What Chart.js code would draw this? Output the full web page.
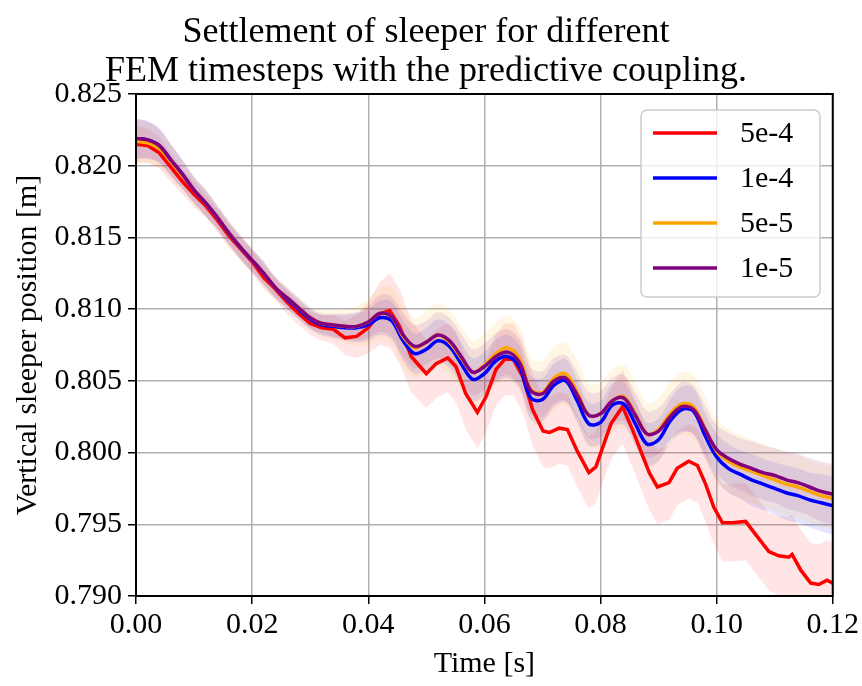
<!DOCTYPE html>
<html>
<head>
<meta charset="utf-8">
<script src="https://cdn.jsdelivr.net/npm/chart.js@4"></script>
<style>
  body { margin: 0; background: #fff; }
  #wrap { width: 862px; height: 686px; }
</style>
</head>
<body>
<div id="wrap"><canvas id="settlementChart" width="862" height="686"></canvas></div>
<script>
// title, FEM timestep labels and colours
const titleLines = ["Settlement of sleeper for different", "FEM timesteps with the predictive coupling."];
const seriesLabels = ["5e-4", "1e-4", "5e-5", "1e-5"];
const seriesColors = ["#ff0000", "#0000ff", "#ffa500", "#800080"];

// tick values
const xTicks = [0, 0.02, 0.04, 0.06, 0.08, 0.10, 0.12];
const yTicks = [0.790, 0.795, 0.800, 0.805, 0.810, 0.815, 0.820, 0.825];

// time grid shared by the three finer timesteps
const timeFine = [0, 0.002, 0.004, 0.006, 0.008, 0.010, 0.012, 0.014, 0.016, 0.018,
    0.020, 0.022, 0.024, 0.026, 0.028, 0.030, 0.032, 0.034, 0.036, 0.038,
    0.040, 0.042, 0.044, 0.046, 0.048, 0.050, 0.052, 0.054, 0.056, 0.058,
    0.060, 0.062, 0.064, 0.066, 0.068, 0.070, 0.072, 0.074, 0.076, 0.078,
    0.080, 0.082, 0.084, 0.086, 0.088, 0.090, 0.092, 0.094, 0.096, 0.098,
    0.100, 0.102, 0.104, 0.106, 0.108, 0.110, 0.112, 0.114, 0.116, 0.118, 0.120];

const pos1e4 = [0.8219, 0.8218, 0.8214, 0.8204, 0.8194, 0.8183, 0.8174, 0.8164, 0.8153, 0.8143, 0.8134, 0.8125, 0.8115, 0.8107, 0.8100, 0.8093,
    0.8089, 0.8088, 0.8087, 0.8087, 0.8089,
    0.8094, 0.8092, 0.8078, 0.8069, 0.8072, 0.8078, 0.8074, 0.8062, 0.8051, 0.8055,
    0.8064, 0.8067, 0.8060, 0.8038, 0.8037, 0.8047, 0.8050, 0.8036, 0.8020, 0.8021,
    0.8033, 0.8034, 0.8020, 0.8006, 0.8009, 0.8022, 0.8030, 0.8029, 0.8012, 0.7997,
    0.7989, 0.7985, 0.7981, 0.7978, 0.7975, 0.7972, 0.7970, 0.7967, 0.7965, 0.7963];

const pos5e5 = [0.8217, 0.8216, 0.8212, 0.8203, 0.8193, 0.8183, 0.8174, 0.8164, 0.8153, 0.8143, 0.8134, 0.8125, 0.8115, 0.8108, 0.8101, 0.8094,
    0.8090, 0.8089, 0.8088, 0.8088, 0.8091,
    0.8097, 0.8095, 0.8081, 0.8073, 0.8077, 0.8082, 0.8077, 0.8066, 0.8056, 0.8061,
    0.8069, 0.8073, 0.8066, 0.8044, 0.8042, 0.8052, 0.8055, 0.8042, 0.8026, 0.8027,
    0.8036, 0.8039, 0.8027, 0.8013, 0.8016, 0.8027, 0.8034, 0.8032, 0.8017, 0.8001,
    0.7994, 0.7990, 0.7987, 0.7984, 0.7981, 0.7978, 0.7976, 0.7973, 0.7970, 0.7968];

const pos1e5 = [0.8219, 0.8218, 0.8214, 0.8204, 0.8194, 0.8183, 0.8174, 0.8164, 0.8153, 0.8143, 0.8134, 0.8125, 0.8115, 0.8108, 0.8101, 0.8094,
    0.8090, 0.8089, 0.8088, 0.8088, 0.8091,
    0.8097, 0.8095, 0.8082, 0.8074, 0.8077, 0.8082, 0.8078, 0.8067, 0.8056, 0.8060,
    0.8067, 0.8070, 0.8063, 0.8043, 0.8041, 0.8050, 0.8052, 0.8040, 0.8026, 0.8027,
    0.8036, 0.8038, 0.8026, 0.8013, 0.8015, 0.8025, 0.8032, 0.8030, 0.8016, 0.8002,
    0.7996, 0.7992, 0.7989, 0.7986, 0.7984, 0.7981, 0.7979, 0.7976, 0.7973, 0.7971];

// spread of the shaded bands (half width)
const spread1e4 = [0.0014, 0.0013, 0.0012, 0.0011, 0.0010, 0.0009, 0.0009, 0.0008, 0.0008, 0.0008, 0.0008, 0.0008, 0.0007, 0.0007, 0.0007, 0.0007,
    0.0007, 0.0008, 0.0009, 0.0010, 0.0011,
    0.0012, 0.0013, 0.0014, 0.0014, 0.0015, 0.0015, 0.0015, 0.0015, 0.0015, 0.0015,
    0.0015, 0.0015, 0.0015, 0.0015, 0.0015, 0.0015, 0.0015, 0.0015, 0.0015, 0.0015,
    0.0015, 0.0015, 0.0015, 0.0015, 0.0015, 0.0015, 0.0016, 0.0016, 0.0016, 0.0016,
    0.0017, 0.0017, 0.0018, 0.0018, 0.0018, 0.0019, 0.0019, 0.0019, 0.0020, 0.0020];

const spread5e5 = [0.0015, 0.0014, 0.0013, 0.0012, 0.0011, 0.0010, 0.0010, 0.0009, 0.0009, 0.0009, 0.0009, 0.0009, 0.0008, 0.0008, 0.0008, 0.0008,
    0.0009, 0.0010, 0.0012, 0.0014, 0.0016,
    0.0018, 0.0020, 0.0021, 0.0021, 0.0022, 0.0022, 0.0022, 0.0022, 0.0022, 0.0022,
    0.0022, 0.0022, 0.0022, 0.0022, 0.0022, 0.0022, 0.0022, 0.0022, 0.0022, 0.0022,
    0.0022, 0.0022, 0.0022, 0.0022, 0.0022, 0.0022, 0.0022, 0.0022, 0.0022, 0.0022,
    0.0022, 0.0022, 0.0022, 0.0022, 0.0022, 0.0022, 0.0022, 0.0022, 0.0022, 0.0022];

const spread1e5 = [0.0014, 0.0013, 0.0012, 0.0011, 0.0010, 0.0009, 0.0009, 0.0008, 0.0008, 0.0008, 0.0008, 0.0008, 0.0007, 0.0007, 0.0007, 0.0007,
    0.0007, 0.0008, 0.0009, 0.0010, 0.0011,
    0.0013, 0.0014, 0.0015, 0.0015, 0.0015, 0.0016, 0.0016, 0.0016, 0.0016, 0.0016,
    0.0016, 0.0016, 0.0016, 0.0016, 0.0016, 0.0016, 0.0016, 0.0016, 0.0016, 0.0016,
    0.0016, 0.0016, 0.0016, 0.0016, 0.0016, 0.0016, 0.0017, 0.0017, 0.0017, 0.0017,
    0.0018, 0.0018, 0.0019, 0.0019, 0.0019, 0.0020, 0.0020, 0.0020, 0.0021, 0.0021];

// the coarse 5e-4 run has its own sample times
const time5e4 = [0, 0.002, 0.004, 0.006, 0.008, 0.010, 0.012, 0.014, 0.016, 0.018, 0.020,
    0.022, 0.024, 0.026, 0.028, 0.030, 0.032, 0.034, 0.036, 0.038, 0.040, 0.042,
    0.0437, 0.0454, 0.0474, 0.050, 0.0517, 0.0537, 0.0551, 0.0568, 0.0588, 0.0603,
    0.062, 0.0635, 0.065, 0.0666, 0.0683, 0.0701, 0.0712, 0.0729, 0.0743, 0.076,
    0.078, 0.0792, 0.0818, 0.0838, 0.0855, 0.0884, 0.0898, 0.0918, 0.0932, 0.0952,
    0.0967, 0.0981, 0.0995, 0.101, 0.1027, 0.105, 0.1067, 0.109, 0.1107, 0.1124,
    0.113, 0.1145, 0.1162, 0.1176, 0.119, 0.120];

const pos5e4 = [0.8215, 0.8214, 0.8209, 0.8199, 0.8189, 0.8180, 0.8172, 0.8162, 0.8151, 0.8142, 0.8133,
    0.8122, 0.8114, 0.8105, 0.8097, 0.8090, 0.8087, 0.8086, 0.8080, 0.8081, 0.8087, 0.8097,
    0.8099, 0.8088, 0.8067, 0.8055, 0.8062, 0.8066, 0.8060, 0.8041, 0.8028, 0.8039,
    0.8058, 0.8065, 0.8065, 0.8053, 0.8030, 0.8015, 0.8014, 0.8017, 0.8016, 0.8001,
    0.7986, 0.7990, 0.8020, 0.8032, 0.8016, 0.7986, 0.7976, 0.7979, 0.7989, 0.7994,
    0.7991, 0.7978, 0.7962, 0.7951, 0.7951, 0.7952, 0.7943, 0.7931, 0.7928, 0.7927,
    0.7929, 0.7918, 0.7909, 0.7908, 0.7911, 0.7909];

const spread5e4 = [0.0013, 0.0012, 0.0011, 0.0010, 0.0009, 0.0009, 0.0008, 0.0008, 0.0008, 0.0008, 0.0008,
    0.0008, 0.0008, 0.0008, 0.0008, 0.0008, 0.0009, 0.0010, 0.0012, 0.0015, 0.0018, 0.0022,
    0.0026, 0.0026, 0.0025, 0.0024, 0.0024, 0.0024, 0.0025, 0.0025, 0.0025, 0.0025,
    0.0025, 0.0025, 0.0025, 0.0025, 0.0025, 0.0025, 0.0025, 0.0025, 0.0025, 0.0025,
    0.0025, 0.0025, 0.0025, 0.0026, 0.0026, 0.0026, 0.0026, 0.0026, 0.0026, 0.0026,
    0.0026, 0.0026, 0.0026, 0.0027, 0.0027, 0.0027, 0.0027, 0.0027, 0.0028, 0.0028,
    0.0028, 0.0028, 0.0028, 0.0028, 0.0028, 0.0028];

const FONT = "'Liberation Serif', 'DejaVu Serif', serif";

const runs = [
    { times: time5e4, pos: pos5e4, spread: spread5e4, tension: 0 },
    { times: timeFine, pos: pos1e4, spread: spread1e4, tension: 0.35 },
    { times: timeFine, pos: pos5e5, spread: spread5e5, tension: 0.35 },
    { times: timeFine, pos: pos1e5, spread: spread1e5, tension: 0.35 }
];

function toPoints(times, values) {
    return times.map((t, i) => ({ x: t, y: values[i] }));
}

function withAlpha(hex, a) {
    const n = parseInt(hex.slice(1), 16);
    return `rgba(${(n >> 16) & 255}, ${(n >> 8) & 255}, ${n & 255}, ${a})`;
}

// build datasets: lines on top, bands underneath
const datasets = [];
runs.forEach((run, i) => {
    datasets.push({
        label: seriesLabels[i],
        data: toPoints(run.times, run.pos),
        borderColor: seriesColors[i],
        borderWidth: 3.5,
        pointRadius: 0,
        fill: false,
        tension: run.tension,
        order: 4 - i
    });
});
runs.forEach((run, i) => {
    const lowerIndex = datasets.length;
    datasets.push({
        label: "band-lo",
        data: toPoints(run.times, run.pos.map((v, k) => v - run.spread[k])),
        borderWidth: 0,
        borderColor: "transparent",
        pointRadius: 0,
        fill: false,
        tension: run.tension,
        order: 20 - i
    });
    datasets.push({
        label: "band-hi",
        data: toPoints(run.times, run.pos.map((v, k) => v + run.spread[k])),
        borderWidth: 0,
        borderColor: "transparent",
        backgroundColor: withAlpha(seriesColors[i], 0.1),
        pointRadius: 0,
        fill: { target: lowerIndex },
        tension: run.tension,
        order: 20 - i
    });
});

// title, frame around the plot area and legend box inside it
const decorPlugin = {
    id: "decor",
    afterDraw(chart) {
        const { ctx, chartArea: a } = chart;
        ctx.save();
        ctx.fillStyle = "#000";
        ctx.font = `36px ${FONT}`;
        ctx.textAlign = "center";
        ctx.textBaseline = "alphabetic";
        ctx.fillText(titleLines[0], 426, 42);
        ctx.fillText(titleLines[1], 426, 81);
        ctx.restore();
    },
    afterDatasetsDraw(chart) {
        const { ctx, chartArea: a } = chart;
        ctx.save();
        ctx.strokeStyle = "#000";
        ctx.lineWidth = 2;
        ctx.strokeRect(a.left, a.top, a.right - a.left, a.bottom - a.top);

        // legend
        const bx = 641, by = 110, bw = 179, bh = 187, r = 6;
        ctx.beginPath();
        ctx.moveTo(bx + r, by);
        ctx.arcTo(bx + bw, by, bx + bw, by + bh, r);
        ctx.arcTo(bx + bw, by + bh, bx, by + bh, r);
        ctx.arcTo(bx, by + bh, bx, by, r);
        ctx.arcTo(bx, by, bx + bw, by, r);
        ctx.closePath();
        ctx.fillStyle = "rgba(255,255,255,0.8)";
        ctx.fill();
        ctx.strokeStyle = "#cccccc";
        ctx.lineWidth = 1.5;
        ctx.stroke();

        ctx.font = `30px ${FONT}`;
        ctx.textBaseline = "middle";
        ctx.textAlign = "left";
        seriesLabels.forEach((label, i) => {
            const y = 133 + i * 45;
            ctx.beginPath();
            ctx.moveTo(653, y);
            ctx.lineTo(717, y);
            ctx.strokeStyle = seriesColors[i];
            ctx.lineWidth = 3.5;
            ctx.stroke();
            ctx.fillStyle = "#000";
            ctx.fillText(label, 740, y + 1);
        });
        ctx.restore();
    }
};

const ctx = document.getElementById("settlementChart").getContext("2d");
new Chart(ctx, {
    type: "line",
    data: { datasets },
    options: {
        responsive: false,
        animation: false,
        layout: { padding: { left: 0, right: 28, top: 94, bottom: 0 } },
        plugins: {
            legend: { display: false },
            tooltip: { enabled: false },
            title: { display: false }
        },
        scales: {
            x: {
                type: "linear",
                min: 0,
                max: 0.12,
                afterBuildTicks: (axis) => { axis.ticks = xTicks.map(v => ({ value: v })); },
                afterFit: (axis) => { axis.height = 90; },
                ticks: {
                    color: "#000",
                    font: { family: FONT, size: 30 },
                    padding: 3,
                    maxRotation: 0,
                    callback: (v) => Number(v).toFixed(2)
                },
                grid: { color: "#b0b0b0", lineWidth: 1.5, tickColor: "#000", tickLength: 8, tickWidth: 1.5 },
                border: { display: false },
                title: { display: true, text: "Time [s]", color: "#000", font: { family: FONT, size: 30 }, padding: { top: 0 } }
            },
            y: {
                type: "linear",
                min: 0.790,
                max: 0.825,
                afterBuildTicks: (axis) => { axis.ticks = yTicks.map(v => ({ value: v })); },
                afterFit: (axis) => { axis.width = 136; },
                ticks: {
                    color: "#000",
                    font: { family: FONT, size: 30 },
                    padding: 6,
                    callback: (v) => Number(v).toFixed(3)
                },
                grid: { color: "#b0b0b0", lineWidth: 1.5, tickColor: "#000", tickLength: 8, tickWidth: 1.5 },
                border: { display: false },
                title: { display: true, text: "Vertical sleeper position [m]", color: "#000", font: { family: FONT, size: 30 }, padding: { top: 10, bottom: 0 } }
            }
        }
    },
    plugins: [decorPlugin]
});
</script>
</body>
</html>
